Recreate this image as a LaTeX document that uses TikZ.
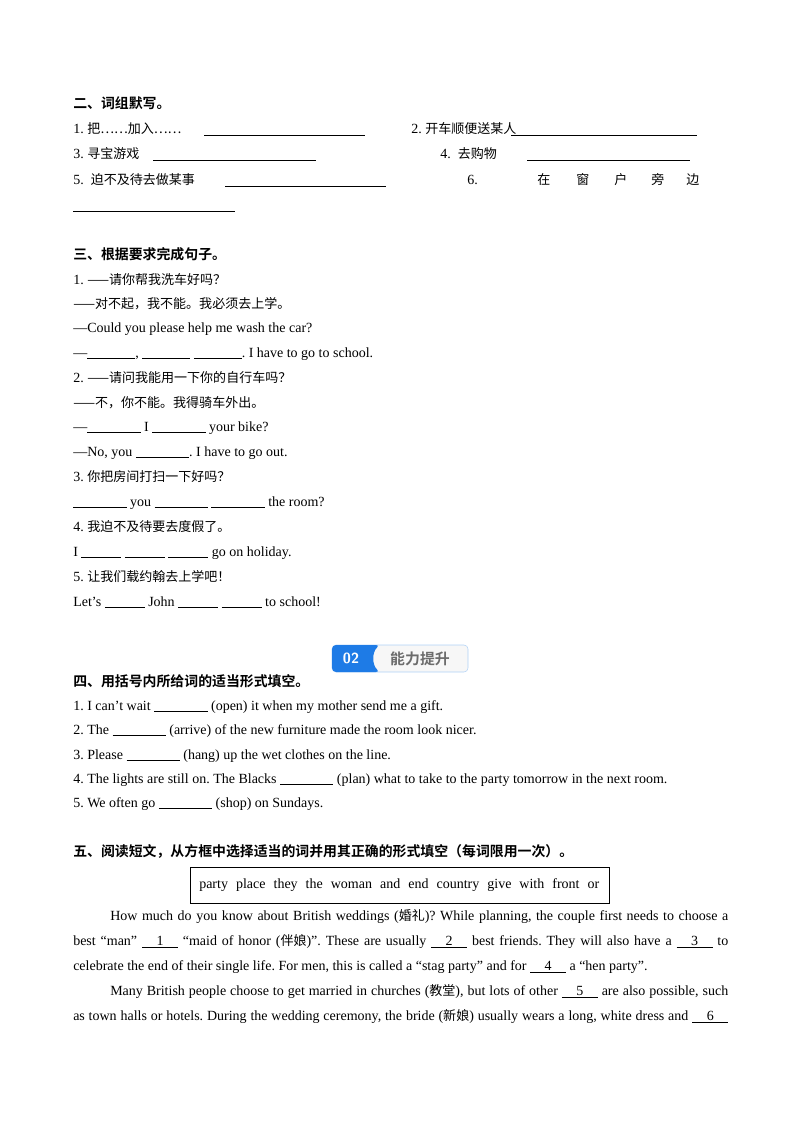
\documentclass[tikz,border=0pt]{standalone}
\usepackage{fontspec}
\setmainfont{Liberation Serif}
\newfontfamily\cjk{Noto Sans CJK SC}[Scale=0.93,BoldFont={Noto Sans CJK SC Bold}]
\newcommand\zh[1]{{\cjk #1}}
\newcommand\gap[1]{\rule[-1.5pt]{#1pt}{0.4pt}}
\newcommand\blankno[1]{\underline{\makebox[27pt]{#1}}}
\definecolor{badgeblue}{HTML}{1E7BE6}
\frenchspacing
\tikzset{
  txt/.style={anchor=base west, inner sep=0pt, font=\fontsize{10.5}{12}\selectfont},
  head/.style={txt, font=\fontsize{11.2}{12}\selectfont\bfseries\cjk},
  fill line/.style={line width=0.5pt}
}
\begin{document}
\begin{tikzpicture}[x=0.75pt,y=-0.75pt]
\useasboundingbox (0,0) rectangle (800,1132);

% section two
\node[head] (h2) at (73,108) {二、词组默写。};
\node[txt] (p1) at (73,133) {1. \zh{把……加入……}};
\coordinate (u1a) at (204,135); \coordinate (u1b) at (365,135);
\draw[fill line] (u1a) -- (u1b);
\node[txt] (p2) at (411,133) {2. \zh{开车顺便送某人}};
\coordinate (u2a) at (511,135); \coordinate (u2b) at (697,135);
\draw[fill line] (u2a) -- (u2b);
\node[txt] (p3) at (73,158) {3. \zh{寻宝游戏}};
\coordinate (u3a) at (153,160); \coordinate (u3b) at (316,160);
\draw[fill line] (u3a) -- (u3b);
\node[txt] (p4) at (440,158) {4.\enspace\zh{去购物}};
\coordinate (u4a) at (527,160); \coordinate (u4b) at (690,160);
\draw[fill line] (u4a) -- (u4b);
\node[txt] (p5) at (73,184) {5.\enspace\zh{迫不及待去做某事}};
\coordinate (u5a) at (225,186); \coordinate (u5b) at (386,186);
\draw[fill line] (u5a) -- (u5b);
\node[txt] (p6) at (467,184) {6.};
\node[txt] (w1) at (537,184) {\zh{在}};
\node[txt] (w2) at (576,184) {\zh{窗}};
\node[txt] (w3) at (614,184) {\zh{户}};
\node[txt] (w4) at (651,184) {\zh{旁}};
\node[txt] (w5) at (686,184) {\zh{边}};
\coordinate (u6a) at (73,211); \coordinate (u6b) at (235,211);
\draw[fill line] (u6a) -- (u6b);

% section three
\node[head] (h3) at (73,259) {三、根据要求完成句子。};
\node[txt] (s1a) at (73,284) {1. \zh{——请你帮我洗车好吗？}};
\node[txt] (s1b) at (73,308) {\zh{——对不起，我不能。我必须去上学。}};
\node[txt] (s1c) at (73,332) {—Could you please help me wash the car?};
\node[txt] (s1d) at (73,357) {—\gap{36}, \gap{36} \gap{36}. I have to go to school.};
\node[txt] (s2a) at (73,382) {2. \zh{——请问我能用一下你的自行车吗？}};
\node[txt] (s2b) at (73,407) {\zh{——不，你不能。我得骑车外出。}};
\node[txt] (s2c) at (73,431) {—\gap{40} I \gap{40} your bike?};
\node[txt] (s2d) at (73,456) {—No, you \gap{40}. I have to go out.};
\node[txt] (s3a) at (73,481) {3. \zh{你把房间打扫一下好吗？}};
\node[txt] (s3b) at (73,506) {\gap{40} you \gap{40} \gap{40} the room?};
\node[txt] (s4a) at (73,531) {4. \zh{我迫不及待要去度假了。}};
\node[txt] (s4b) at (73,556) {I \gap{30} \gap{30} \gap{30} go on holiday.};
\node[txt] (s5a) at (73,581) {5. \zh{让我们载约翰去上学吧！}};
\node[txt] (s5b) at (73,606) {Let’s \gap{30} John \gap{30} \gap{30} to school!};

% badge
\draw[badgeblue!35, fill=gray!6, rounded corners=3pt] (332,645) rectangle (468,672);
\fill[badgeblue, rounded corners=3pt] (332,645) -- (380,645) .. controls (372,652) and (372,665) .. (380,672) -- (332,672) -- cycle;
\node[font=\fontsize{11}{12}\selectfont\bfseries\sffamily, text=white] (bnum) at (351,658.5) {02};
\node[font=\fontsize{12}{12}\selectfont\bfseries\cjk, text=gray!85!black] (btxt) at (420,658.5) {能力提升};

% section four
\node[head] (h4) at (73,686) {四、用括号内所给词的适当形式填空。};
\node[txt] (f1) at (73,710) {1. I can’t wait \gap{40} (open) it when my mother send me a gift.};
\node[txt] (f2) at (73,734) {2. The \gap{40} (arrive) of the new furniture made the room look nicer.};
\node[txt] (f3) at (73,759) {3. Please \gap{40} (hang) up the wet clothes on the line.};
\node[txt] (f4) at (73,783) {4. The lights are still on. The Blacks \gap{40} (plan) what to take to the party tomorrow in the next room.};
\node[txt] (f5) at (73,807) {5. We often go \gap{40} (shop) on Sundays.};

% section five
\node[head] (h5) at (73,856) {五、阅读短文，从方框中选择适当的词并用其正确的形式填空（每词限用一次）。};
\draw[line width=0.6pt] (190,867) rectangle (609,903);
\node[txt] (box) at (199,888) {\makebox[300pt][s]{party place they the woman and end country give with front or}};
\node[txt] (r1) at (110,920) {\makebox[463.5pt][s]{How much do you know about British weddings (\zh{婚礼})? While planning, the couple first needs to choose a}};
\node[txt] (r2) at (73,945) {\makebox[491.25pt][s]{best “man” \blankno{1} “maid of honor (\zh{伴娘})”. These are usually \blankno{2} best friends. They will also have a \blankno{3} to}};
\node[txt] (r3) at (73,970) {celebrate the end of their single life. For men, this is called a “stag party” and for \blankno{4} a “hen party”.};
\node[txt] (r4) at (110,995) {\makebox[463.5pt][s]{Many British people choose to get married in churches (\zh{教堂}), but lots of other \blankno{5} are also possible, such}};
\node[txt] (r5) at (73,1020) {\makebox[491.25pt][s]{as town halls or hotels. During the wedding ceremony, the bride (\zh{新娘}) usually wears a long, white dress and \blankno{6}}};
\end{tikzpicture}
\end{document}
